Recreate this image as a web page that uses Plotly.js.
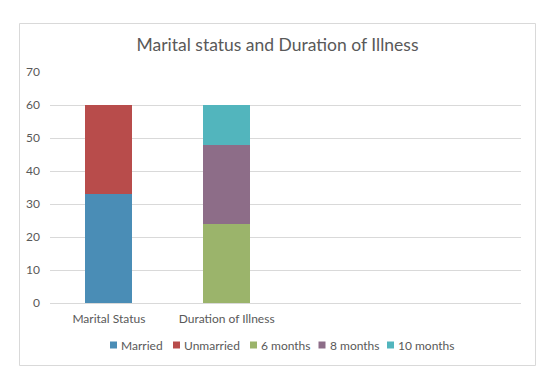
<!DOCTYPE html>
<html>
<head>
<meta charset="utf-8">
<script src="https://cdn.plot.ly/plotly-3.0.1.min.js"></script>
<style>
html,body{margin:0;padding:0;background:#fff;}
#chart{width:555px;height:390px;}
</style>
</head>
<body>
<div id="chart"></div>
<script>
const categories = ["Marital Status", "Duration of Illness"];
const seriesNames = ["Married", "Unmarried", "6 months", "8 months", "10 months"];
const married   = [33, null];
const unmarried = [27, null];
const sixMonths = [null, 24];
const eightMonths = [null, 24];
const tenMonths = [null, 12];
const yTicks = [0, 10, 20, 30, 40, 50, 60, 70];
const title = "Marital status and Duration of Illness";

const colors = ["#4A8DB6", "#B84C4B", "#9BB46B", "#8D6D88", "#52B5BD"];
const values = [married, unmarried, sixMonths, eightMonths, tenMonths];

const traces = values.map((v, i) => ({
  type: "bar",
  name: seriesNames[i],
  x: categories,
  y: v,
  marker: {color: colors[i], line: {width: 0}},
  showlegend: false,
  hoverinfo: "x+y+name"
}));

const font = "Lato, 'Open Sans', sans-serif";
const L = 50, R = 521, T = 72, B = 303;
const pw = R - L, ph = B - T;
function px(x){ return (x - L) / pw; }
function py(y){ return (B - y) / ph; }

// legend layout (pixel positions of each entry's swatch, Excel-style)
const legendSwatchX = [110, 173, 250, 318.5, 387];
const legendY = 345;
const sw = 7;

const shapes = [{type: "rect", xref: "paper", yref: "paper",
  x0: px(19.5), x1: px(535.5), y0: py(365.5), y1: py(23.5),
  line: {color: "#D9D9D9", width: 1}, fillcolor: "rgba(0,0,0,0)", layer: "below"}];
const annotations = [];
seriesNames.forEach((n, i) => {
  const x = legendSwatchX[i];
  shapes.push({type: "rect", xref: "paper", yref: "paper",
    x0: px(x), x1: px(x + sw), y0: py(legendY + sw/2), y1: py(legendY - sw/2),
    line: {width: 0}, fillcolor: colors[i]});
  annotations.push({xref: "paper", yref: "paper", x: px(x + sw + 2), y: py(legendY),
    xanchor: "left", yanchor: "middle", showarrow: false, text: n,
    font: {family: font, size: 12, color: "#595959"}});
});

const layout = {
  width: 555, height: 390,
  margin: {l: L, r: 555 - R, t: T, b: 390 - B, pad: 0},
  paper_bgcolor: "#fff", plot_bgcolor: "#fff",
  barmode: "stack",
  bargap: 0.6,
  font: {family: font, color: "#595959", size: 12},
  title: {text: title, font: {family: font, size: 17.5, color: "#595959"},
          x: 0.5, xref: "container", y: 1 - 45/390, yref: "container", yanchor: "middle"},
  xaxis: {type: "category", categoryarray: categories, range: [-0.5, 3.5],
          showgrid: false, showline: true, linecolor: "#D9D9D9", linewidth: 1,
          ticks: "", ticklabelstandoff: 5, tickfont: {size: 12, color: "#595959"}, fixedrange: true, zeroline: false},
  yaxis: {range: [0, 70], tickvals: yTicks, showgrid: true, gridcolor: "#D9D9D9", gridwidth: 1,
          showline: false, zeroline: false, ticks: "", ticklen: 0, ticklabelstandoff: 9,
          tickfont: {size: 12, color: "#595959"}, fixedrange: true},
  showlegend: false,
  shapes: shapes,
  annotations: annotations
};

Plotly.newPlot("chart", traces, layout, {displayModeBar: false, staticPlot: true});
</script>
</body>
</html>
